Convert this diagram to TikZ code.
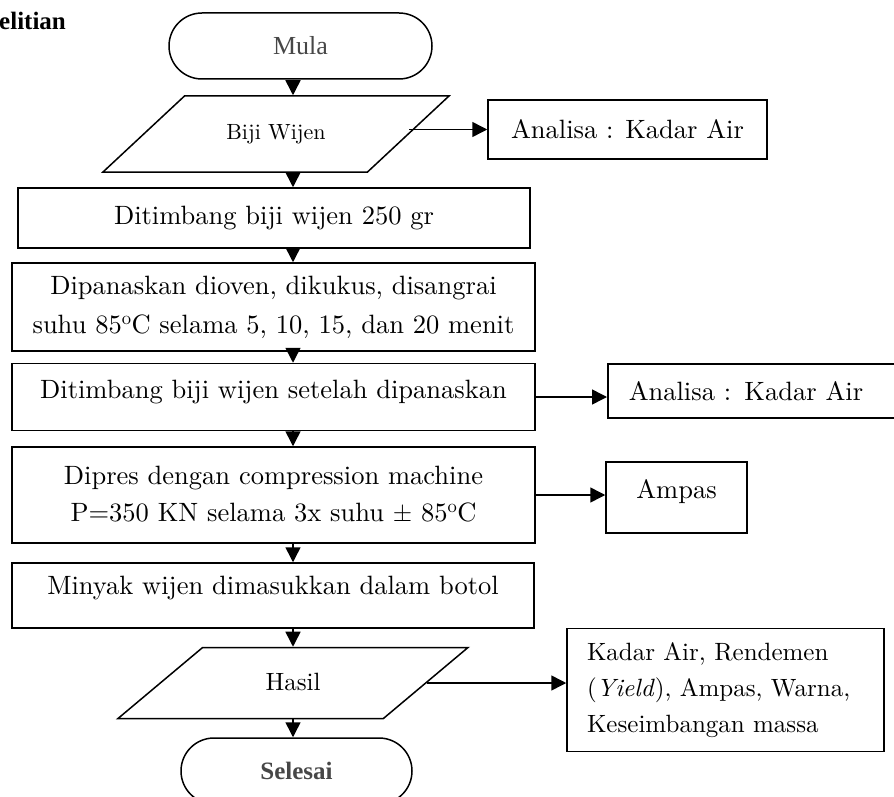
\documentclass[tikz,border=0pt]{standalone}
\usepackage{fontspec}
\setmainfont{lmroman10-regular.otf}[ItalicFont=lmroman10-italic.otf,BoldFont=lmroman10-bold.otf]
\newfontfamily\timesf{Liberation Serif}
\usetikzlibrary{shapes.geometric,arrows.meta}
\begin{document}
\begin{tikzpicture}[x=1pt,y=-1pt,
  box/.style={draw,line width=1.5pt,rectangle,inner sep=0pt,align=center,font=\fontsize{26.5}{37}\selectfont},
  term/.style={draw,line width=1.5pt,rectangle,rounded corners=33pt,inner sep=0pt,minimum height=66pt,text=black!72},
  io/.style={draw,line width=1.5pt,trapezium,trapezium stretches body,inner xsep=0pt},
  lift/.style={text depth=#1},
  arr/.style={line width=1.5pt,-{Triangle[width=15pt,length=15pt]}},
]
\useasboundingbox (0,0) rectangle (894,797);
\coordinate (ax) at (293,0);
\node[anchor=base west,inner sep=0pt,font=\timesf\bfseries\fontsize{25}{30}\selectfont] (title) at (-1,30) {elitian};
\node[term,minimum width=263pt,font=\timesf\fontsize{26}{30}\selectfont] (mula) at (300.5,46) {Mula};
\node[io,trapezium left angle=43,trapezium right angle=137,text height=16pt,text depth=5pt,inner ysep=27.5pt,minimum width=346pt,minimum height=76pt,font=\fontsize{22}{26}\selectfont] (biji) at (276,134) {Biji Wijen};
\node[box,minimum width=279pt,minimum height=59pt] (ana1) at (627.5,129.5) {Analisa : Kadar Air};
\node[box,minimum width=512pt,minimum height=60pt] (t1) at (274,218) {Ditimbang biji wijen 250 gr};
\node[box,minimum width=523pt,minimum height=88pt,font=\fontsize{26.5}{39}\selectfont] (panas) at (273.5,307) {Dipanaskan dioven, dikukus, disangrai\\suhu 85\textsuperscript{o}C selama 5, 10, 15, dan 20 menit};
\node[box,minimum width=523pt,minimum height=67pt,lift=16pt] (t2) at (273.5,397) {Ditimbang biji wijen setelah dipanaskan};
\node[box,anchor=west,minimum height=54pt,text width=292pt,inner xsep=21pt,align=left] (ana2) at (607,391) {Analisa : Kadar Air};
\node[box,minimum width=523pt,minimum height=96pt] (dipres) at (273.5,495) {Dipres dengan compression machine\\P=350 KN selama 3x suhu $\pm$ 85\textsuperscript{o}C};
\node[box,minimum width=141pt,minimum height=71pt,lift=16pt] (ampas) at (676.5,497.5) {Ampas};
\node[box,minimum width=522pt,minimum height=65pt,lift=20pt] (minyak) at (273,595.5) {Minyak wijen dimasukkan dalam botol};
\node[io,trapezium left angle=40,trapezium right angle=140,text height=18pt,text depth=4pt,inner ysep=24.5pt,minimum width=350pt,minimum height=71pt,font=\fontsize{25}{30}\selectfont] (hasil) at (293,683) {Hasil};
\node[box,minimum height=123pt,text width=277pt,inner xsep=20pt,align=left,font=\fontsize{25}{36}\selectfont] (kadar) at (725.5,690) {Kadar Air, Rendemen\\(\textit{Yield}), Ampas, Warna,\\Keseimbangan massa};
\node[term,minimum width=231pt,font=\timesf\bfseries\fontsize{25}{30}\selectfont] (selesai) at (296.5,771) {Selesai};
\draw[arr] (mula.south -| ax) -- (biji.north -| ax);
\draw[arr] (biji.south -| ax) -- (t1.north -| ax);
\draw[arr] (t1.south -| ax) -- (panas.north -| ax);
\draw[arr] (panas.south -| ax) -- (t2.north -| ax);
\draw[arr] (t2.south -| ax) -- (dipres.north -| ax);
\draw[arr] (dipres.south -| ax) -- (minyak.north -| ax);
\draw[arr] (minyak.south -| ax) -- (hasil.north -| ax);
\draw[arr] (hasil.south -| ax) -- (selesai.north -| ax);
\draw[arr] (biji.east |- ana1) -- (ana1.west);
\draw[arr] (t2.east) -- (t2.east -| ana2.west);
\draw[arr] (dipres.east) -- (dipres.east -| ampas.west);
\draw[arr] (hasil.east) -- (hasil.east -| kadar.west);
\end{tikzpicture}
\end{document}
